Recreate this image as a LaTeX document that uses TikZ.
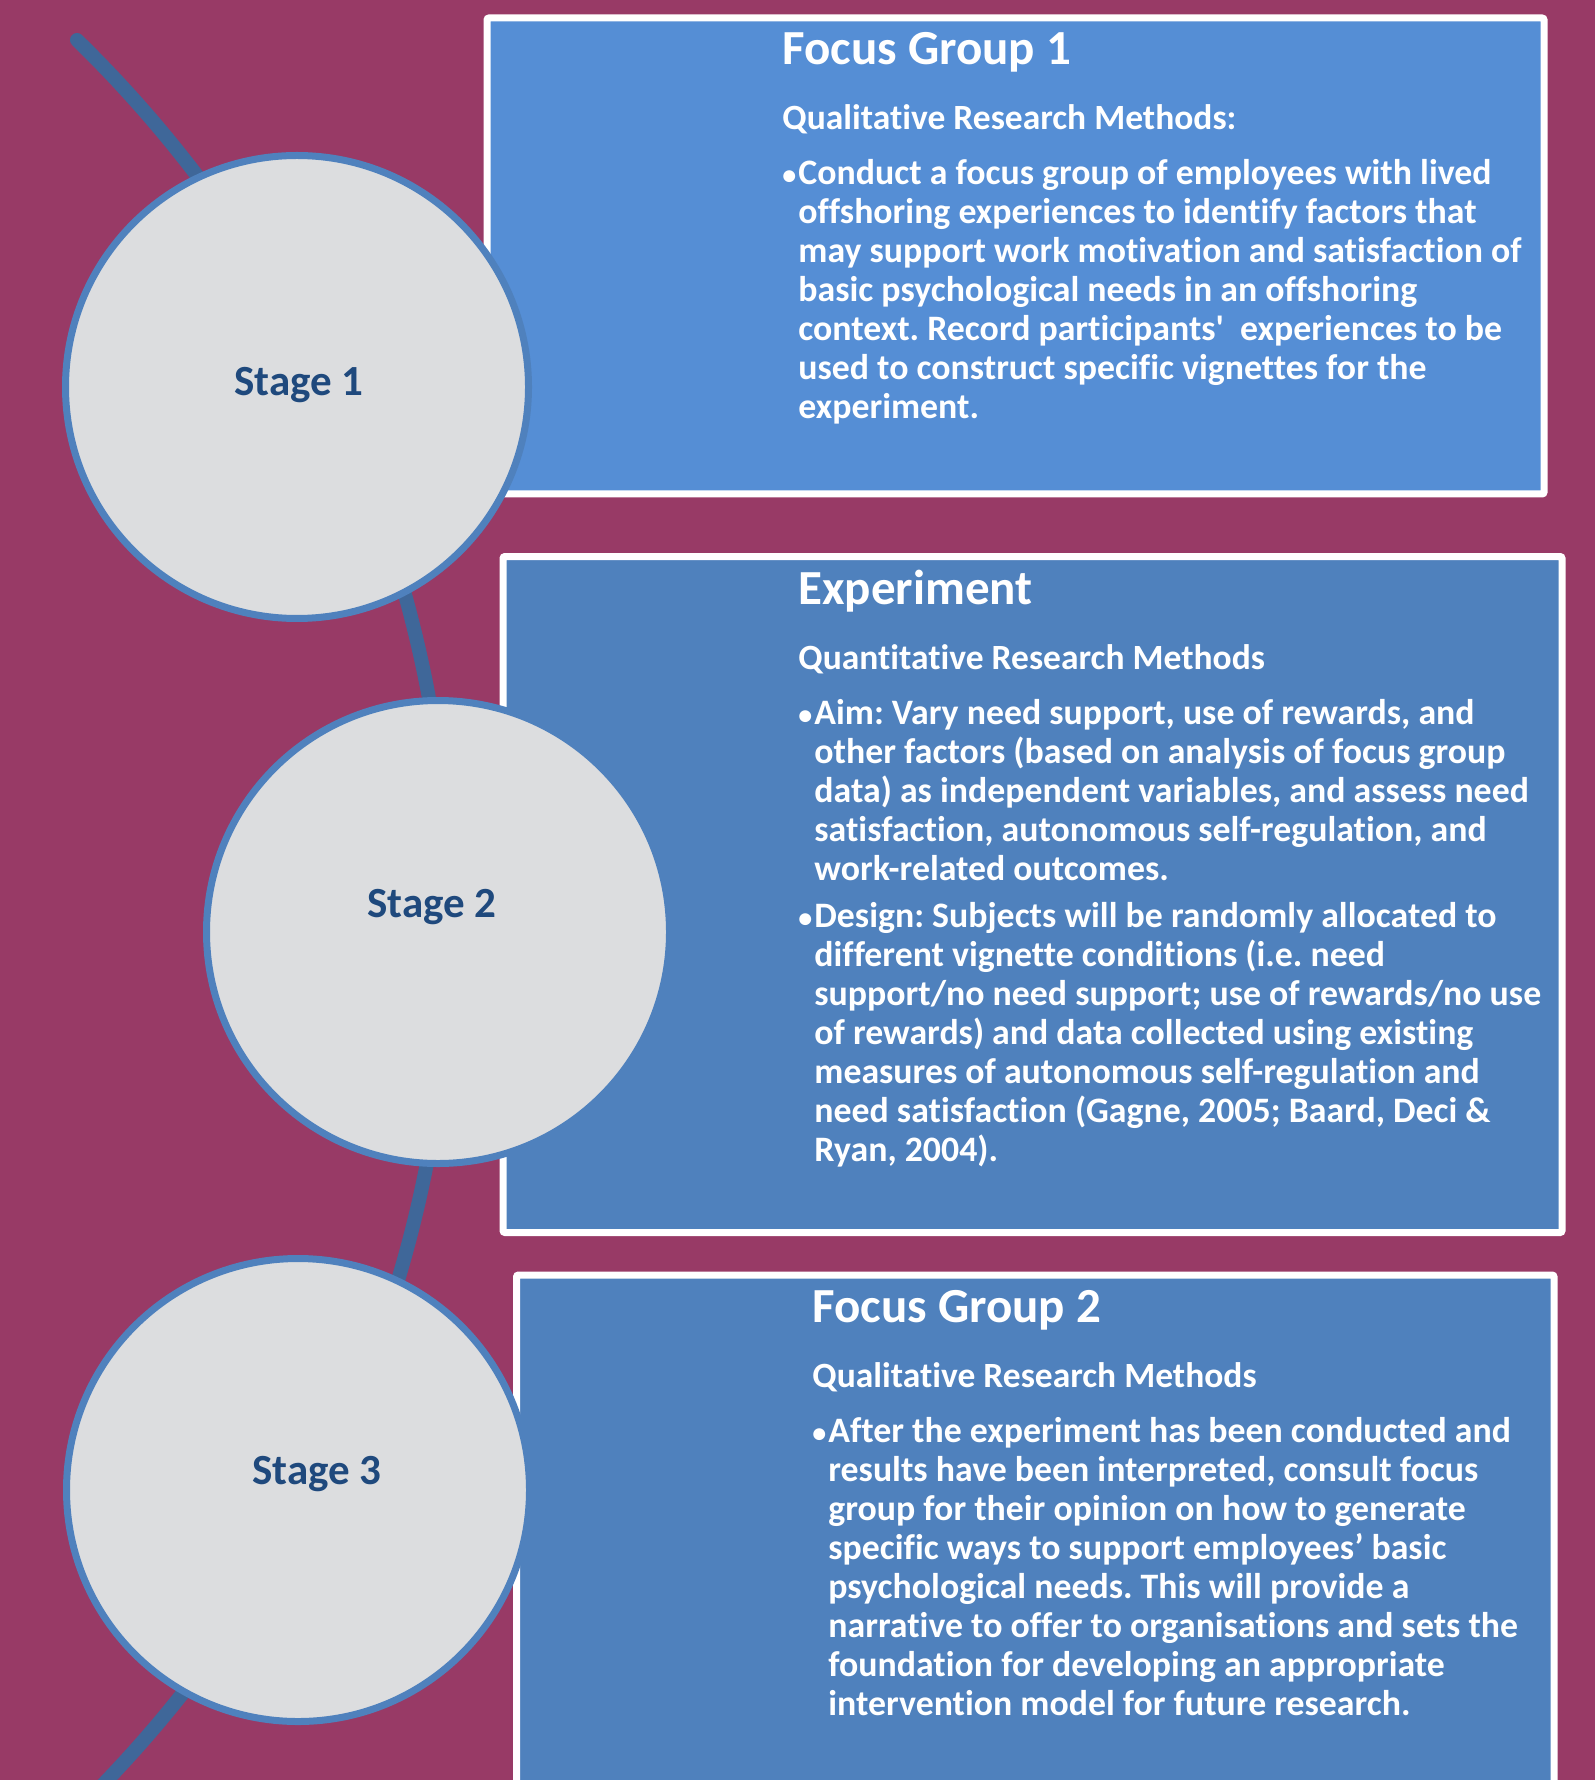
\documentclass[tikz,border=0pt]{standalone}
\usepackage{fontspec}
\setmainfont{Carlito}[Ligatures={TeX,NoCommon}]
\usepackage{xcolor}
\usepackage{tikz}
\usetikzlibrary{positioning}
\definecolor{Grund}{RGB}{152,58,102}
\definecolor{KastenHell}{RGB}{85,142,213}
\definecolor{KastenBlau}{RGB}{79,129,189}
\definecolor{KreisGrau}{RGB}{220,221,223}
\definecolor{BogenBlau}{RGB}{63,103,153}
\definecolor{StufeBlau}{RGB}{31,73,125}
\tikzset{
  Kasten/.style={draw=white, line width=3.5pt, rounded corners=1pt, anchor=north west, inner sep=0pt}, % Textkasten
  Kreis/.style={circle, draw=KastenBlau, fill=KreisGrau, line width=3.5pt, minimum size=231.5pt, inner sep=0pt}, % Stufe
  Stufe/.style={text=StufeBlau, anchor=base, inner sep=0pt, font={\bfseries\fontsize{21.5}{26}\selectfont}},
  Inhalt/.style={text=white, anchor=base west, inner sep=0pt, font=\bfseries},
  Bogen/.style={draw=BogenBlau, line width=7pt, line cap=round}
}
% Textbausteine
\newcommand{\Titel}[1]{{\fontsize{24.5}{29}\selectfont #1\par}}
\newcommand{\Unter}[1]{{\fontsize{17.75}{32.5}\selectfont #1\par}}
\newcommand{\Dot}{\makebox[8pt][l]{\raisebox{0pt}{\fontsize{14}{14}\selectfont\textbullet}}}
\newcommand{\Punkt}[1]{{\fontsize{17.9}{19.5}\selectfont
  \hangindent=8pt \hangafter=1
  \Dot#1\par}}

\begin{document}
\begin{tikzpicture}[x=0.5pt, y=-0.5pt]
\useasboundingbox (0,0) rectangle (1595,1780);
\clip (0,0) rectangle (1595,1780);

%Hintergrund
\fill[Grund] (0,0) rectangle (1595,1780);

%Bogen
\coordinate (BogenA) at (77,40);
\draw[Bogen] (BogenA) arc[start angle=-45.7, end angle=46, radius=1237];

%Kaesten
\node[Kasten, fill=KastenHell, minimum width=528.5pt, minimum height=238pt] (FG1) at (483.5,14.5) {};
\node[Kasten, fill=KastenBlau, minimum width=529.5pt, minimum height=338pt] (Exp) at (499.5,553) {};
\node[Kasten, fill=KastenBlau, minimum width=518.75pt, minimum height=300pt] (FG2) at (513,1271.5) {};

%Kreise
\node[Kreis] (Kr1) at (297,387) {};
\node[Kreis] (Kr2) at (438,932) {};
\node[Kreis] (Kr3) at (298,1490) {};

\node[Stufe] (St1) at ([shift={(2,9)}]Kr1.center) {Stage 1};
\node[Stufe] (St2) at ([shift={(-6,-15)}]Kr2.center) {Stage 2};
\node[Stufe] (St3) at ([shift={(19,-6)}]Kr3.center) {Stage 3};

%Beschriftung der Kaesten
\node[Inhalt] (T1) at ([shift={(298.5,50.5)}]FG1.north west) {\parbox[t]{420pt}{\frenchspacing
  \Titel{Focus Group 1}
  \Unter{Qualitative Research Methods:}
  \vspace{8pt}
  \Punkt{Conduct a focus group of employees with lived\\
  offshoring experiences to identify factors that\\
  may support work motivation and satisfaction of\\
  basic psychological needs in an offshoring\\
  context. Record participants\textquotesingle\ \ experiences to be\\
  used to construct specific vignettes for the\\
  experiment.}}};

\node[Inhalt] (T2) at ([shift={(298.5,51)}]Exp.north west) {\parbox[t]{420pt}{\frenchspacing
  \Titel{Experiment}
  \Unter{Quantitative Research Methods}
  \vspace{8pt}
  \Punkt{Aim: Vary need support, use of rewards, and\\
  other factors (based on analysis of focus group\\
  data) as independent variables, and assess need\\
  satisfaction, autonomous self-regulation, and\\
  work-related outcomes.}
  \vspace{4pt}
  \Punkt{Design: Subjects will be randomly allocated to\\
  different vignette conditions (i.e. need\\
  support/no need support; use of rewards/no use\\
  of rewards) and data collected using existing\\
  measures of autonomous self-regulation and\\
  need satisfaction (Gagne, 2005; Baard, Deci \&\\
  Ryan, 2004).}}};

\node[Inhalt] (T3) at ([shift={(299,50.5)}]FG2.north west) {\parbox[t]{420pt}{\frenchspacing
  \Titel{Focus Group 2}
  \Unter{Qualitative Research Methods}
  \vspace{8pt}
  \Punkt{After the experiment has been conducted and\\
  results have been interpreted, consult focus\\
  group for their opinion on how to generate\\
  specific ways to support employees’ basic\\
  psychological needs. This will provide a\\
  narrative to offer to organisations and sets the\\
  foundation for developing an appropriate\\
  intervention model for future research.}}};

\end{tikzpicture}
\end{document}
